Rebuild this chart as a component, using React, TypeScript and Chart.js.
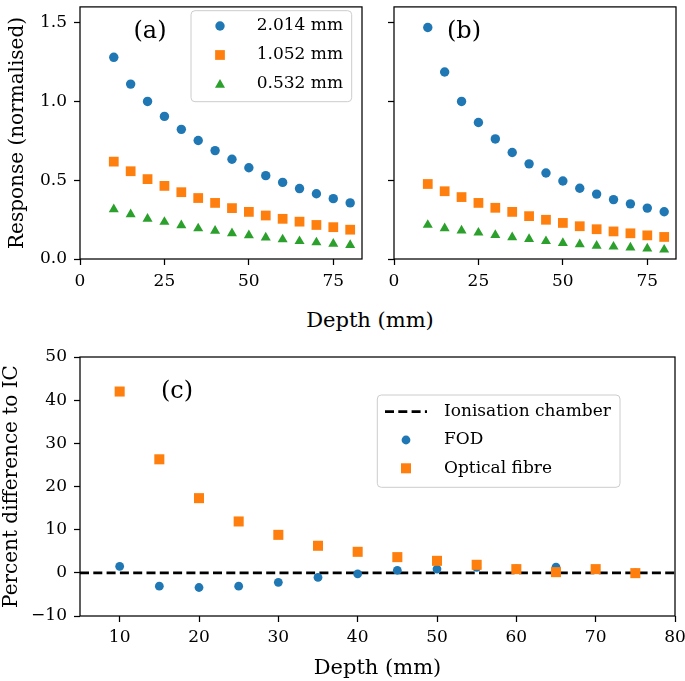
import React, { useEffect, useRef } from 'react';
import { Chart, registerables } from 'chart.js';

Chart.register(...registerables);

// ---------------- data ----------------
const depths = [10, 15, 20, 25, 30, 35, 40, 45, 50, 55, 60, 65, 70, 75, 80];

// panel (a)
const a2014 = [1.28, 1.11, 1.0, 0.905, 0.823, 0.752, 0.688, 0.633, 0.579, 0.529, 0.486, 0.447, 0.414, 0.383, 0.356];
const a1052 = [0.618, 0.557, 0.507, 0.464, 0.424, 0.387, 0.356, 0.323, 0.299, 0.276, 0.255, 0.237, 0.216, 0.202, 0.186];
const a0532 = [0.315, 0.284, 0.255, 0.235, 0.214, 0.194, 0.179, 0.163, 0.15, 0.136, 0.124, 0.113, 0.105, 0.096, 0.088];

// panel (b)
const b2014 = [1.469, 1.187, 1.0, 0.866, 0.762, 0.676, 0.604, 0.546, 0.495, 0.449, 0.412, 0.377, 0.35, 0.323, 0.3];
const b1052 = [0.476, 0.43, 0.393, 0.356, 0.325, 0.299, 0.272, 0.249, 0.229, 0.208, 0.189, 0.175, 0.163, 0.15, 0.14];
const b0532 = [0.216, 0.195, 0.181, 0.167, 0.152, 0.138, 0.126, 0.113, 0.101, 0.093, 0.084, 0.078, 0.072, 0.066, 0.059];

const seriesLabelsAB = ['2.014 mm', '1.052 mm', '0.532 mm'];

// panel (c)
const depthsC = [10, 15, 20, 25, 30, 35, 40, 45, 50, 55, 60, 65, 70, 75];
const fodDiff = [1.5, -3.1, -3.4, -3.1, -2.2, -1.07, -0.23, 0.55, 0.86, 1.28, 0.9, 1.3, 0.8, 0.0];
const fibreDiff = [42.0, 26.3, 17.3, 11.9, 8.8, 6.27, 4.87, 3.64, 2.78, 1.86, 0.86, 0.16, 0.86, -0.07];
const chamberX = [5, 80];
const chamberY = [0, 0];
const seriesLabelsC = ['Ionisation chamber', 'FOD', 'Optical fibre'];

// ticks
const xTicksAB = [0, 25, 50, 75];
const yTicksAB = [0, 0.5, 1.0, 1.5];
const xTicksC = [10, 20, 30, 40, 50, 60, 70, 80];
const yTicksC = [-10, 0, 10, 20, 30, 40, 50];

// ---------------- styles ----------------
const BLUE = '#1f77b4';
const ORANGE = '#ff7f0e';
const GREEN = '#2ca02c';
const SERIF = '"DejaVu Serif", "Liberation Serif", serif';
const TICK_FONT = { family: SERIF, size: 17 };
const LABEL_FONT_Y = { family: SERIF, size: 20 };
const LABEL_FONT_X = { family: SERIF, size: 21 };
const DASH = [9, 4.3];

const pts = (xs: number[], ys: number[]) => xs.map((x, i) => ({ x, y: ys[i] }));

function drawMarker(ctx: CanvasRenderingContext2D, style: string, x: number, y: number, r: number, color: string) {
  ctx.save();
  ctx.fillStyle = color;
  ctx.beginPath();
  if (style === 'circle') {
    ctx.arc(x, y, r, 0, Math.PI * 2);
  } else if (style === 'rect') {
    const s = Math.SQRT1_2 * r;
    ctx.rect(x - s, y - s, 2 * s, 2 * s);
  } else {
    const yc = y + r / 4;
    ctx.moveTo(x, yc - r);
    ctx.lineTo(x + r * Math.sin((2 * Math.PI) / 3), yc - r * Math.cos((2 * Math.PI) / 3));
    ctx.lineTo(x + r * Math.sin((4 * Math.PI) / 3), yc - r * Math.cos((4 * Math.PI) / 3));
    ctx.closePath();
  }
  ctx.fill();
  ctx.restore();
}

function legendBox(ctx: CanvasRenderingContext2D, x: number, y: number, w: number, h: number) {
  ctx.save();
  ctx.beginPath();
  ctx.roundRect(x, y, w, h, 4);
  ctx.fillStyle = 'rgba(255,255,255,0.8)';
  ctx.fill();
  ctx.strokeStyle = '#cccccc';
  ctx.lineWidth = 1;
  ctx.stroke();
  ctx.restore();
}

function legendText(ctx: CanvasRenderingContext2D, text: string, x: number, y: number) {
  ctx.save();
  ctx.fillStyle = '#000';
  ctx.font = `17px ${SERIF}`;
  ctx.textAlign = 'left';
  ctx.textBaseline = 'middle';
  ctx.fillText(text, x, y);
  ctx.restore();
}

function framePlugin(label: string, dx: number, dy: number, legend?: (ctx: CanvasRenderingContext2D) => void) {
  return {
    id: 'frame_' + label,
    afterDraw(chart: any) {
      const { ctx, chartArea: a } = chart;
      ctx.save();
      ctx.strokeStyle = '#000';
      ctx.lineWidth = 1.25;
      ctx.strokeRect(a.left, a.top, a.right - a.left, a.bottom - a.top);
      ctx.fillStyle = '#000';
      ctx.font = `24px ${SERIF}`;
      ctx.textAlign = 'center';
      ctx.textBaseline = 'middle';
      ctx.fillText(label, a.left + dx, a.top + dy);
      ctx.restore();
      if (legend) legend(ctx);
    },
  };
}

function makeAxis(opts: {
  min: number; max: number; ticks: number[]; size: number; horizontal: boolean;
  fmt: (v: number) => string; title?: string; titlePad?: any; tickPad: number;
}) {
  return {
    type: 'linear',
    position: opts.horizontal ? 'bottom' : 'left',
    min: opts.min,
    max: opts.max,
    afterBuildTicks: (s: any) => { s.ticks = opts.ticks.map((v) => ({ value: v })); },
    afterFit: (s: any) => {
      if (opts.horizontal) s.height = opts.size; else s.width = opts.size;
      s.paddingTop = 0;
      s.paddingBottom = 0;
      s.paddingLeft = 0;
      s.paddingRight = 0;
    },
    grid: { display: true, drawOnChartArea: false, drawTicks: true, tickLength: 6, tickWidth: 1.25, tickColor: '#000' },
    border: { display: false },
    ticks: {
      color: '#000', font: TICK_FONT, padding: opts.tickPad, maxRotation: 0, minRotation: 0, autoSkip: false,
      callback: (v: any) => opts.fmt(Number(v)),
    },
    title: opts.title
      ? { display: true, text: opts.title, color: '#000', font: opts.horizontal ? LABEL_FONT_X : LABEL_FONT_Y, padding: opts.titlePad }
      : { display: false },
  };
}

const baseOptions = (padding: any) => ({
  responsive: false,
  animation: false,
  devicePixelRatio: 1,
  events: [],
  layout: { padding },
  plugins: { legend: { display: false }, tooltip: { enabled: false } },
});

function pointDs(label: string, xs: number[], ys: number[], style: string, r: number, color: string, order = 0) {
  return {
    label,
    data: pts(xs, ys),
    pointStyle: style,
    pointRadius: r,
    pointHoverRadius: r,
    pointBackgroundColor: color,
    backgroundColor: color,
    borderColor: color,
    pointBorderWidth: 0,
    showLine: false,
    order,
  };
}

const R_CIRC = 4.7;
const R_RECT = 6.9;
const R_TRI = 5.8;

function topConfig(series: number[][], panel: 'a' | 'b') {
  const isA = panel === 'a';
  const legendA = (ctx: CanvasRenderingContext2D) => {
    legendBox(ctx, 191, 10.7, 160.7, 91);
    const rows = [26, 55, 83.3];
    const styles = [['circle', R_CIRC, BLUE], ['rect', R_RECT, ORANGE], ['triangle', R_TRI, GREEN]] as const;
    rows.forEach((y, i) => {
      drawMarker(ctx, styles[i][0], 220, y, styles[i][1], styles[i][2]);
      legendText(ctx, seriesLabelsAB[i], 256.7, y);
    });
  };
  return {
    type: 'scatter',
    data: {
      datasets: [
        pointDs(seriesLabelsAB[0], depths, series[0], 'circle', R_CIRC, BLUE),
        pointDs(seriesLabelsAB[1], depths, series[1], 'rect', R_RECT, ORANGE),
        pointDs(seriesLabelsAB[2], depths, series[2], 'triangle', R_TRI, GREEN),
      ],
    },
    options: {
      ...baseOptions(isA ? { top: 1, right: 8, left: 0, bottom: 0 } : { top: 1, right: 9, left: 0, bottom: 0 }),
      scales: {
        x: makeAxis({ min: 0, max: 83.5, ticks: xTicksAB, size: 41, horizontal: true, fmt: (v) => String(v), tickPad: 6 }),
        y: makeAxis({
          min: 0, max: 1.6, ticks: yTicksAB, size: isA ? 80 : 34, horizontal: false,
          fmt: (v) => (isA ? v.toFixed(1) : ''),
          title: isA ? 'Response (normalised)' : undefined, titlePad: { top: 6, bottom: 0 }, tickPad: 7,
        }),
      },
    },
    plugins: [framePlugin(isA ? '(a)' : '(b)', 70, 25, isA ? legendA : undefined)],
  };
}

function bottomConfig() {
  const legendC = (ctx: CanvasRenderingContext2D) => {
    legendBox(ctx, 377.3, 55, 242.7, 92.3);
    ctx.save();
    ctx.strokeStyle = '#000';
    ctx.lineWidth = 2.8;
    ctx.setLineDash(DASH);
    ctx.beginPath();
    ctx.moveTo(385, 71.7);
    ctx.lineTo(427, 71.7);
    ctx.stroke();
    ctx.restore();
    legendText(ctx, seriesLabelsC[0], 444, 71.7);
    drawMarker(ctx, 'circle', 406, 100, 4.4, BLUE);
    legendText(ctx, seriesLabelsC[1], 444, 100);
    drawMarker(ctx, 'rect', 406, 128.3, 7.1, ORANGE);
    legendText(ctx, seriesLabelsC[2], 444, 128.3);
  };
  const fmt = (v: number) => (v < 0 ? '\u2212' + Math.abs(v) : String(v));
  return {
    type: 'scatter',
    data: {
      datasets: [
        {
          label: seriesLabelsC[0],
          data: pts(chamberX, chamberY),
          showLine: true,
          borderColor: '#000',
          borderWidth: 2.8,
          borderDash: DASH,
          pointRadius: 0,
          pointHoverRadius: 0,
          order: 3,
        },
        pointDs(seriesLabelsC[1], depthsC, fodDiff, 'circle', 4.4, BLUE, 2),
        pointDs(seriesLabelsC[2], depthsC, fibreDiff, 'rect', 7.1, ORANGE, 1),
      ],
    },
    options: {
      ...baseOptions({ top: 17, right: 10, left: 0, bottom: 0 }),
      scales: {
        x: makeAxis({
          min: 5, max: 80, ticks: xTicksC, size: 65, horizontal: true, fmt,
          title: 'Depth (mm)', titlePad: { top: 0, bottom: 0 }, tickPad: 5,
        }),
        y: makeAxis({
          min: -10, max: 50, ticks: yTicksC, size: 80, horizontal: false, fmt,
          title: 'Percent difference to IC', titlePad: { top: 0, bottom: 0 }, tickPad: 7,
        }),
      },
    },
    plugins: [framePlugin('(c)', 97, 34.7, legendC)],
  };
}

type Box = { left: number; top: number; width: number; height: number };

function ChartCanvas({ box, make }: { box: Box; make: () => any }) {
  const ref = useRef<HTMLCanvasElement>(null);
  useEffect(() => {
    const chart = new Chart(ref.current as HTMLCanvasElement, make());
    return () => chart.destroy();
  }, []);
  return (
    <canvas
      ref={ref}
      width={box.width}
      height={box.height}
      style={{ position: 'absolute', left: box.left, top: box.top, width: box.width, height: box.height }}
    />
  );
}

export default function App() {
  return (
    <div style={{ position: 'absolute', left: 0, top: 0, width: 685, height: 681, background: '#fff', overflow: 'hidden' }}>
      <ChartCanvas box={{ left: 0, top: 0, width: 370, height: 300 }} make={() => topConfig([a2014, a1052, a0532], 'a')} />
      <ChartCanvas box={{ left: 360, top: 0, width: 325, height: 300 }} make={() => topConfig([b2014, b1052, b0532], 'b')} />
      <div
        style={{
          position: 'absolute', left: 370, top: 320, transform: 'translate(-50%, -50%)',
          fontFamily: SERIF, fontSize: 21, lineHeight: 1, whiteSpace: 'nowrap', color: '#000',
        }}
      >
        Depth (mm)
      </div>
      <ChartCanvas box={{ left: 0, top: 340, width: 685, height: 341 }} make={bottomConfig} />
    </div>
  );
}
